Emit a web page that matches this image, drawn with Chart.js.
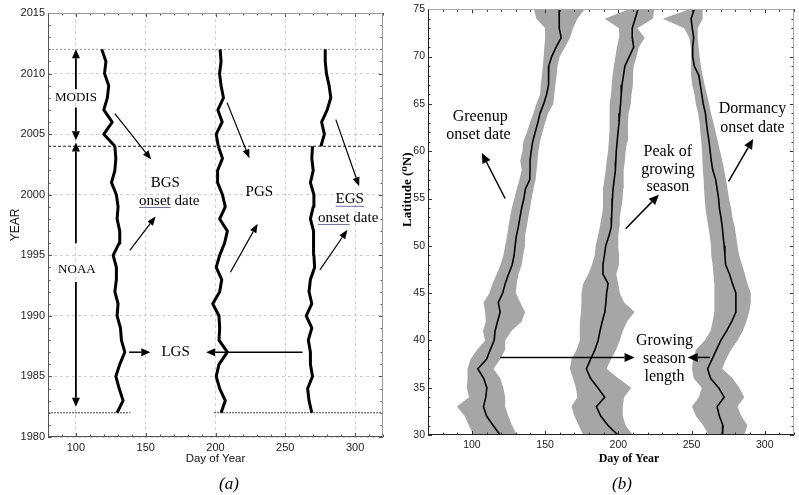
<!DOCTYPE html>
<html>
<head>
<meta charset="utf-8">
<script src="https://cdn.jsdelivr.net/npm/chart.js@4.4.1/dist/chart.umd.min.js"></script>
<style>
  body { margin: 0; background: #fff; width: 799px; height: 495px; position: relative; overflow: hidden; }
  #wrapA { position: absolute; left: 0; top: 0; width: 396px; height: 495px; }
  #wrapB { position: absolute; left: 398px; top: 0; width: 401px; height: 495px; }
  .cap { position: absolute; top: 474px; font: italic 17px 'Liberation Serif', serif; transform: translateX(-50%); }
</style>
</head>
<body>
<div id="wrapA"><canvas id="chartA" width="396" height="495"></canvas></div>
<div id="wrapB"><canvas id="chartB" width="401" height="495"></canvas></div>
<div class="cap" style="left:229px">(a)</div>
<div class="cap" style="left:622px">(b)</div>
<script>
// ---- panel (a): phenology dates by year ----
const noaaYears = [1982, 1983, 1984, 1985, 1986, 1987, 1988, 1989, 1990, 1991, 1992, 1993,
  1994, 1995, 1996, 1997, 1998, 1999, 2000, 2001, 2002, 2003, 2004];
const modisYears = [2004, 2005, 2006, 2007, 2008, 2009, 2010, 2011, 2012];

const bgsNoaa = [129.5, 133.8, 131, 128.6, 131.4, 135, 132.6, 131.9, 129.5, 130.2, 127.9, 129,
  129, 126.7, 131, 131.4, 129.5, 130.2, 129, 125.5, 127.9, 128.6, 127.9];
const pgsNoaa = [204, 207, 203, 200.5, 202.5, 208.5, 202.5, 203, 202.5, 198, 203, 204.5,
  200.5, 203, 206.5, 208.5, 203, 207, 205, 201.5, 201.5, 205, 202];
const egsNoaa = [269, 267, 266, 269.5, 268, 268, 266.5, 269, 265, 269, 267, 268,
  271, 270.5, 270, 270.5, 268, 270, 270.5, 268, 270, 269, 269.5];

const bgsModis = [128, 120, 126, 120, 122.5, 123.5, 120.5, 121.5, 118.5];
const pgsModis = [202, 200.5, 204.8, 201.7, 205.7, 204, 202.9, 204, 203.3];
const egsModis = [275.5, 278, 276, 280, 282.6, 281.4, 279.5, 278.6, 278.6];

const refYears = [2012, 2004, 1982];
const ref1982Gap = [139, 199];

const dayTicksA = [100, 150, 200, 250, 300];
const yearTicksA = [1980, 1985, 1990, 1995, 2000, 2005, 2010, 2015];

// ---- panel (b): phenology dates by latitude ----
const lats = [75, 74, 73, 72, 71, 70, 69, 68, 67, 66, 65, 64, 63, 62, 61, 60, 59, 58, 57, 56, 55,
  54, 53, 52, 51, 50, 49, 48, 47, 46, 45, 44, 43, 42, 41, 40, 39, 38, 37, 36, 35, 34, 33, 32, 31, 30];

const greenMid = [159.6, 159.5, 159.8, 161, 157.5, 154.5, 152.5, 152.2, 152.5, 151, 149, 146.5, 145,
  143.2, 141.5, 140.5, 139.7, 139.7, 139.5, 136.5, 135.5, 134, 132.8, 131.7, 130.3, 129.5, 128.8,
  127.5, 125, 122.7, 121, 118, 119.3, 117.5, 115.8, 115.2, 112.5, 110, 104, 108, 110.2, 109.5,
  107.9, 110, 114.5, 119.3];
const greenLeft = [142.4, 144, 150, 150, 149.5, 149, 148.5, 147.8, 147, 146.5, 144, 142, 139.7,
  137.5, 135.1, 134.5, 133, 134, 132.5, 130.6, 129, 127.2, 126, 124.9, 124, 122.7, 121.5, 119.5,
  116.9, 114, 112, 107.9, 109, 109.5, 107.5, 109, 103.6, 99, 97, 97, 96.5, 98, 89.8, 95, 98, 101];
const greenRight = [177, 172, 169, 167, 163.5, 160, 158.5, 157.8, 157, 156.3, 155.6, 152, 150,
  148.2, 146.5, 145.4, 144.8, 144.2, 143.5, 142, 140.8, 139.7, 138.5, 137.4, 136.3, 136.3, 135,
  134, 131.8, 130.6, 130, 133, 136.3, 134, 127, 122.7, 122.7, 119.3, 114.7, 119.3, 121.5, 122.7,
  122.7, 124.9, 127.5, 130.6];

const peakMid = [213.4, 211.5, 209.5, 209.5, 210.5, 207.5, 204.5, 203.5, 202.5, 202, 201.5, 201,
  200.5, 199.8, 199.2, 198.6, 198.3, 198, 197.2, 196.4, 196, 195.7, 195.4, 195.2, 193.5, 191.4,
  190.5, 189.5, 189.5, 193, 192, 191.5, 190.8, 189, 187.5, 186.2, 184, 181, 178.2, 181, 186,
  190.7, 185, 188, 193, 199.8];
const peakLeft = [207, 190.7, 200.5, 200.5, 199, 198, 197, 196, 195.5, 195, 194.1, 194, 194, 194,
  193.5, 193, 192, 191.4, 190.5, 189.5, 189.5, 189.5, 188.5, 187.3, 186, 184.5, 183.9, 182, 179.5,
  176, 174.8, 174.8, 174.5, 173.7, 173.7, 173.7, 171.5, 168, 166.9, 169, 171, 172, 168, 170, 173, 176];
const peakRight = [224.7, 223.5, 213, 218, 214, 212.5, 210.5, 210, 210, 209, 208.5, 207, 206.6,
  206.6, 206, 205, 204.5, 203.8, 203.5, 203.2, 203, 202, 201, 200.5, 200, 199.8, 200.5, 200.5,
  198.6, 200, 201, 204, 211.1, 206, 203, 201, 198.5, 195, 192, 200, 208.8, 204, 203, 203, 205, 210];

const dormMid = [251.9, 249.7, 250.5, 251.5, 250.8, 250.8, 251.9, 255, 256, 257, 258, 259.5, 260.2,
  261, 262, 262.7, 263.5, 264.5, 266.5, 267.5, 268.5, 269, 270.1, 271, 271.6, 272.3, 272.8, 273.3,
  276, 278, 280.3, 280.3, 280.3, 277.5, 274, 270, 267, 264, 261, 263, 268.5, 272.3, 267.5, 269,
  271.5, 271.2];
const dormLeft = [248.5, 230.4, 245, 248.5, 249.5, 249.7, 249.7, 249.7, 250.5, 252, 253, 254.5,
  255.5, 256, 256.7, 257.2, 257.6, 257.8, 258.3, 258.5, 259, 259.5, 260.5, 261.5, 262.5, 263.3,
  263.5, 264.4, 265, 265.6, 265.6, 265.6, 265.6, 264.4, 263, 259, 253, 251, 250.3, 251.5, 257,
  255, 250.3, 253, 258, 261.7];
const dormRight = [257.6, 257.6, 254.2, 254.2, 254.8, 255.5, 256.4, 257.6, 259, 260.5, 262, 263.3,
  265, 266.5, 268, 269.5, 271, 272.3, 273.5, 274.6, 275.6, 277, 278, 279.5, 280.5, 281.4, 282.5,
  284.5, 286.5, 288.2, 290.5, 290.5, 289.4, 287.5, 285, 281.4, 277, 273.5, 271, 278, 282.6, 286,
  281.4, 284, 288.2, 286];

const dayTicksB = [100, 150, 200, 250, 300];
const latTicksB = [30, 35, 40, 45, 50, 55, 60, 65, 70, 75];

const SERIF = "'Liberation Serif', 'DejaVu Serif', serif";
const SANS = "'Liberation Sans', Arial, sans-serif";
Chart.defaults.font.family = SANS;
Chart.defaults.color = '#222';

function pts(days, ys) {
  return days.map((d, i) => ({ x: d, y: ys[i] }));
}

function drawArrow(ctx, x1, y1, x2, y2, lw, hl, hw) {
  const ang = Math.atan2(y2 - y1, x2 - x1);
  const bx = x2 - hl * Math.cos(ang), by = y2 - hl * Math.sin(ang);
  ctx.lineWidth = lw;
  ctx.beginPath();
  ctx.moveTo(x1, y1);
  ctx.lineTo(bx, by);
  ctx.stroke();
  ctx.beginPath();
  ctx.moveTo(x2, y2);
  ctx.lineTo(bx + hw / 2 * Math.sin(ang), by - hw / 2 * Math.cos(ang));
  ctx.lineTo(bx - hw / 2 * Math.sin(ang), by + hw / 2 * Math.cos(ang));
  ctx.closePath();
  ctx.fill();
}

// box round the plot with small inward ticks on all four sides
const framePlugin = {
  id: 'frame',
  afterDraw(chart, args, o) {
    const { ctx, chartArea: a, scales: { x, y } } = chart;
    ctx.save();
    ctx.lineWidth = 1;
    ctx.strokeStyle = o.tickColor;
    ctx.beginPath();
    for (let v = x.min; v <= x.max + 1e-6; v += o.xStep) {
      const len = o.xMajor.includes(v) ? 4 : 2.5;
      const px = Math.round(x.getPixelForValue(v)) + 0.5;
      ctx.moveTo(px, a.bottom); ctx.lineTo(px, a.bottom - len);
      ctx.moveTo(px, a.top); ctx.lineTo(px, a.top + len);
    }
    for (let v = y.min; v <= y.max + 1e-6; v += o.yStep) {
      const len = o.yMajor.includes(v) ? 4 : 2.5;
      const py = Math.round(y.getPixelForValue(v)) + 0.5;
      ctx.moveTo(a.left, py); ctx.lineTo(a.left + len, py);
      ctx.moveTo(a.right, py); ctx.lineTo(a.right - len, py);
    }
    ctx.stroke();
    const l = Math.round(a.left) + 0.5, r = Math.round(a.right) - 0.5;
    const t = Math.round(a.top) + 0.5, b = Math.round(a.bottom) - 0.5;
    ctx.strokeStyle = o.lightEdge;
    ctx.beginPath();
    ctx.moveTo(l, t); ctx.lineTo(r, t); ctx.lineTo(r, b);
    ctx.stroke();
    ctx.strokeStyle = o.darkEdge;
    ctx.beginPath();
    ctx.moveTo(l, t); ctx.lineTo(l, b); ctx.lineTo(r, b);
    ctx.stroke();
    ctx.restore();
  }
};

// labels and arrows placed in data coordinates
const notesPlugin = {
  id: 'notes',
  afterDatasetsDraw(chart, args, o) {
    const { ctx, scales: { x, y } } = chart;
    ctx.save();
    ctx.strokeStyle = '#000';
    ctx.fillStyle = '#000';
    o.arrows.forEach(ar => {
      const p = ar.p;
      drawArrow(ctx, x.getPixelForValue(p[0]), y.getPixelForValue(p[1]),
        x.getPixelForValue(p[2]), y.getPixelForValue(p[3]), ar.w, ar.hl, ar.hw);
    });
    ctx.textAlign = 'center';
    ctx.textBaseline = 'middle';
    o.texts.forEach(t => {
      ctx.font = t.size + 'px ' + SERIF;
      const px = x.getPixelForValue(t.at[0]), py = y.getPixelForValue(t.at[1]);
      ctx.fillStyle = '#000';
      ctx.fillText(t.text, px, py);
      if (t.ul) {
        const w = ctx.measureText(t.text).width;
        const uw = ctx.measureText(t.ul).width;
        const x0 = px - w / 2;
        ctx.strokeStyle = '#6a6ad8';
        ctx.lineWidth = 1;
        ctx.beginPath();
        ctx.moveTo(x0, py + t.size * 0.45);
        ctx.lineTo(x0 + uw, py + t.size * 0.45);
        ctx.stroke();
      }
    });
    ctx.restore();
  }
};

// ---------- chart (a) ----------
// note: chart.js paints dataset 0 last, so the thick curves go first
const thick = { borderColor: '#000', borderWidth: 3, borderJoinStyle: 'round', fill: false };
const refStyles = [
  { borderColor: '#9a9a9a', borderDash: [2, 2] },
  { borderColor: '#222', borderDash: [3, 2] },
  { borderColor: '#444', borderDash: [2, 1] }
];
const refSets = refYears.map((yr, i) => {
  let data = [{ x: 80, y: yr }, { x: 320, y: yr }];
  if (yr === 1982) {
    data = [{ x: 80, y: yr }, { x: ref1982Gap[0], y: yr }, { x: 170, y: null },
      { x: ref1982Gap[1], y: yr }, { x: 320, y: yr }];
  }
  return Object.assign({ data, borderWidth: 1, fill: false }, refStyles[i]);
});

new Chart(document.getElementById('chartA'), {
  type: 'line',
  data: {
    datasets: [
      Object.assign({ data: pts(bgsNoaa, noaaYears) }, thick),
      Object.assign({ data: pts(bgsModis, modisYears) }, thick),
      Object.assign({ data: pts(pgsNoaa, noaaYears) }, thick),
      Object.assign({ data: pts(pgsModis, modisYears) }, thick),
      Object.assign({ data: pts(egsNoaa, noaaYears) }, thick),
      Object.assign({ data: pts(egsModis, modisYears) }, thick)
    ].concat(refSets)
  },
  options: {
    responsive: false,
    animation: false,
    events: [],
    layout: { padding: { left: 0, right: 13, top: 13, bottom: 29 } },
    elements: { point: { radius: 0 }, line: { tension: 0 } },
    plugins: {
      legend: { display: false },
      tooltip: { enabled: false },
      frame: { xStep: 10, yStep: 1, xMajor: dayTicksA, yMajor: yearTicksA,
        tickColor: '#555', lightEdge: '#9a9a9a', darkEdge: '#555' },
      notes: {
        arrows: [
          { p: [100, 2008.7, 100, 2012], w: 1.8, hl: 9, hw: 8 },
          { p: [100, 2007.2, 100, 2004.5], w: 1.8, hl: 9, hw: 8 },
          { p: [100, 1996, 100, 2004.3], w: 1.8, hl: 9, hw: 8 },
          { p: [100, 1992.8, 100, 1982.5], w: 1.8, hl: 9, hw: 8 },
          { p: [127.9, 2006.7, 154, 2002.9], w: 1.2, hl: 9, hw: 7 },
          { p: [138.6, 1995.4, 157.1, 1998.2], w: 1.2, hl: 9, hw: 7 },
          { p: [208.3, 2007.6, 224.3, 2003.0], w: 1.2, hl: 9, hw: 7 },
          { p: [210.7, 1993.6, 230.2, 1997.6], w: 1.2, hl: 9, hw: 7 },
          { p: [286.2, 2006.2, 302.9, 2000.7], w: 1.2, hl: 9, hw: 7 },
          { p: [274.8, 1993.8, 294.5, 1997.1], w: 1.2, hl: 9, hw: 7 },
          { p: [138.1, 1987, 153.3, 1987], w: 1.5, hl: 9, hw: 8 },
          { p: [262.4, 1987, 193.3, 1987], w: 1.5, hl: 9, hw: 8 }
        ],
        texts: [
          { text: 'MODIS', at: [100, 2008], size: 13 },
          { text: 'NOAA', at: [100.7, 1993.8], size: 13 },
          { text: 'BGS', at: [164, 2000.95], size: 15 },
          { text: 'onset date', at: [166.9, 1999.5], size: 15, ul: 'onset' },
          { text: 'PGS', at: [231.4, 2000.2], size: 15 },
          { text: 'EGS', at: [296.2, 1999.6], size: 15, ul: 'EGS' },
          { text: 'onset date', at: [295, 1998.1], size: 15, ul: 'onset' },
          { text: 'LGS', at: [171.4, 1987], size: 15 }
        ]
      }
    },
    scales: {
      x: {
        type: 'linear', min: 80, max: 320,
        afterBuildTicks: s => { s.ticks = dayTicksA.map(v => ({ value: v })); },
        afterFit: s => { s.height = 29; },
        grid: { color: '#cfcfcf', drawTicks: false },
        border: { display: false, dash: [3, 3] },
        ticks: { padding: 4, font: { size: 11 }, color: '#222' },
        title: { display: true, text: 'Day of Year', font: { size: 11.5 }, color: '#111', padding: 0 }
      },
      y: {
        type: 'linear', min: 1980, max: 2015,
        afterBuildTicks: s => { s.ticks = yearTicksA.map(v => ({ value: v })); },
        afterFit: s => { s.width = 48; },
        grid: { color: '#cfcfcf', drawTicks: false },
        border: { display: false, dash: [3, 3] },
        ticks: { padding: 3, font: { size: 11 }, color: '#222', callback: v => String(v) },
        title: { display: true, text: 'YEAR', font: { size: 12 }, color: '#111', padding: { top: 8, bottom: 0 } }
      }
    }
  },
  plugins: [framePlugin, notesPlugin]
});

// ---------- chart (b) ----------
function band(left, right) {
  return {
    data: pts(left, lats).concat(pts(right, lats).reverse()),
    indexAxis: 'y', fill: 'shape', backgroundColor: '#a6a6a6', borderWidth: 0
  };
}
const mid = days => ({ data: pts(days, lats), borderColor: '#000', borderWidth: 1.6, fill: false });

new Chart(document.getElementById('chartB'), {
  type: 'line',
  data: {
    datasets: [
      mid(greenMid),
      mid(peakMid),
      mid(dormMid),
      band(greenLeft, greenRight),
      band(peakLeft, peakRight),
      band(dormLeft, dormRight)
    ]
  },
  options: {
    responsive: false,
    animation: false,
    events: [],
    layout: { padding: { left: 0, right: 5, top: 9, bottom: 29 } },
    elements: { point: { radius: 0 }, line: { tension: 0 } },
    plugins: {
      legend: { display: false },
      tooltip: { enabled: false },
      frame: { xStep: 10, yStep: 1, xMajor: dayTicksB, yMajor: latTicksB,
        tickColor: '#333', lightEdge: '#aaaaaa', darkEdge: '#222' },
      notes: {
        arrows: [
          { p: [122.7, 55.0, 106.8, 59.8], w: 1.5, hl: 10, hw: 9 },
          { p: [205, 51.8, 227.7, 55.4], w: 1.5, hl: 10, hw: 9 },
          { p: [275.3, 56.8, 292.1, 61.3], w: 1.5, hl: 10, hw: 9 },
          { p: [119.3, 38.2, 211.1, 38.2], w: 1.5, hl: 10, hw: 9 },
          { p: [262.6, 38.2, 247.4, 38.2], w: 1.5, hl: 10, hw: 9 }
        ],
        texts: [
          { text: 'Greenup', at: [105.7, 63.6], size: 16 },
          { text: 'onset date', at: [104.5, 61.7], size: 16 },
          { text: 'Peak of', at: [233.8, 59.9], size: 16 },
          { text: 'growing', at: [233.8, 58.0], size: 16 },
          { text: 'season', at: [233.8, 56.2], size: 16 },
          { text: 'Dormancy', at: [291.6, 64.5], size: 16 },
          { text: 'onset date', at: [291.6, 62.5], size: 16 },
          { text: 'Growing', at: [231.5, 40.0], size: 16 },
          { text: 'season', at: [231.5, 38.1], size: 16 },
          { text: 'length', at: [231.5, 36.2], size: 16 }
        ]
      }
    },
    scales: {
      x: {
        type: 'linear', min: 70, max: 320,
        afterBuildTicks: s => { s.ticks = dayTicksB.map(v => ({ value: v })); },
        afterFit: s => { s.height = 31; },
        grid: { display: false, drawTicks: false },
        border: { display: false },
        ticks: { padding: 4, font: { size: 10.5 }, color: '#222' },
        title: { display: true, text: '\u2003\u2003\u2003Day of Year',
          font: { family: SERIF, size: 12, weight: 'bold' }, color: '#000', padding: 0 }
      },
      y: {
        type: 'linear', min: 30, max: 75,
        afterBuildTicks: s => { s.ticks = latTicksB.map(v => ({ value: v })); },
        afterFit: s => { s.width = 30; },
        grid: { display: false, drawTicks: false },
        border: { display: false },
        ticks: { padding: 3, font: { size: 10.5 }, color: '#222' },
        title: { display: true, text: '\u2003\u2003\u2003\u2003\u2003Latitude (\u2070N)',
          font: { family: SERIF, size: 13, weight: 'bold' }, color: '#000', padding: { top: 2, bottom: 0 } }
      }
    }
  },
  plugins: [framePlugin, notesPlugin]
});
</script>
</body>
</html>
